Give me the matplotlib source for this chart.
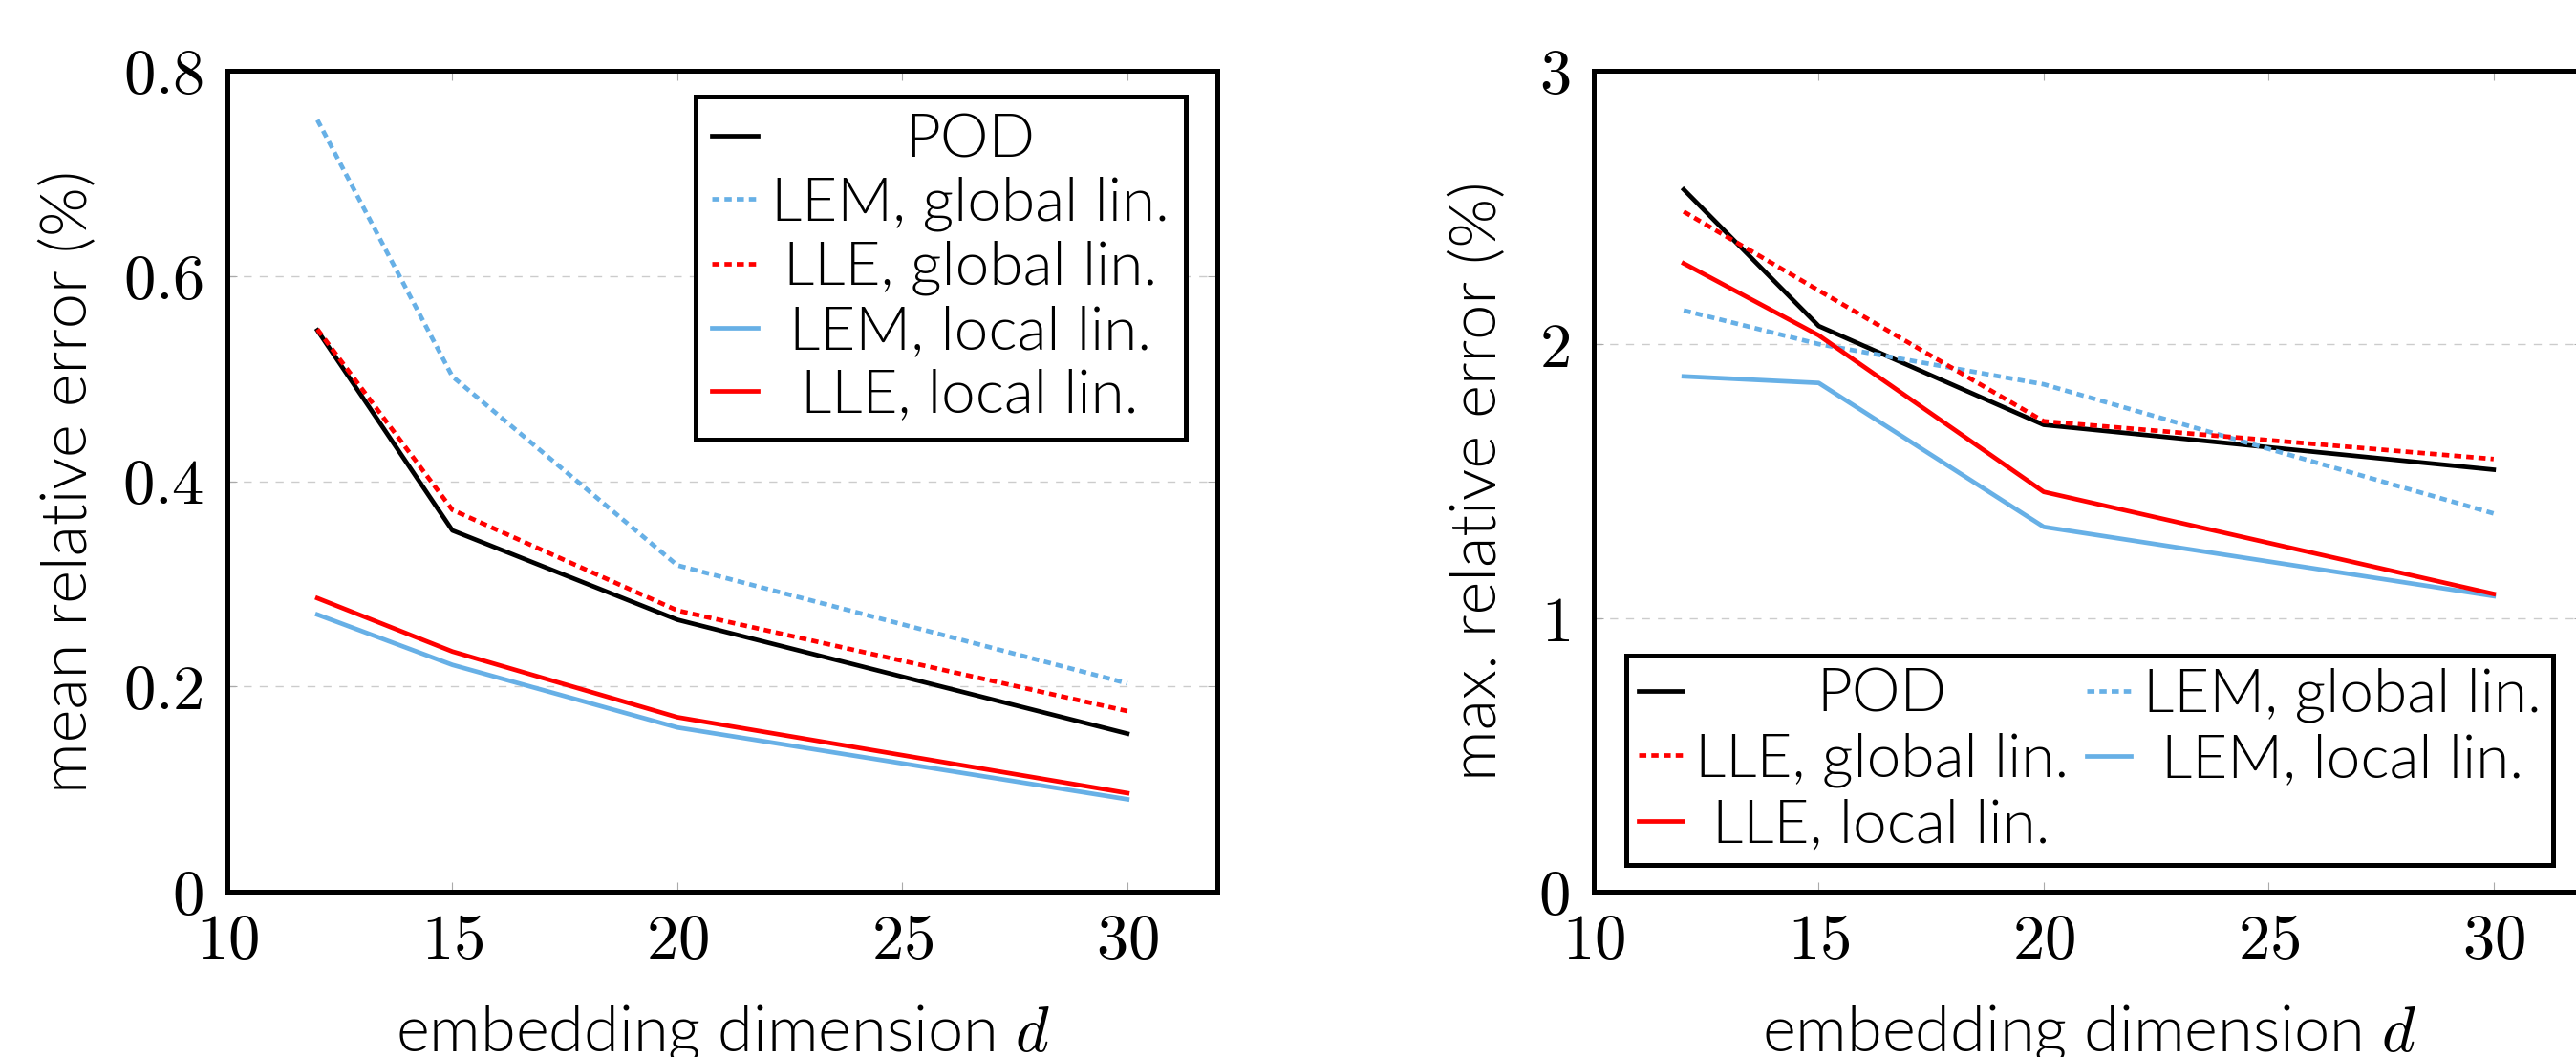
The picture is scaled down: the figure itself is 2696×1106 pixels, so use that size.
import matplotlib
matplotlib.use("Agg")
import matplotlib.pyplot as plt
from matplotlib.ticker import FixedLocator, FuncFormatter

plt.rcParams['font.family'] = ['Lato', 'DejaVu Sans']
plt.rcParams['font.weight'] = 300
plt.rcParams['axes.labelweight'] = 300
plt.rcParams['mathtext.fontset'] = 'cm'

# embedding dimensions
dims = [12, 15, 20, 30]

# mean relative error (%)
mean_pod = [0.547, 0.352, 0.265, 0.154]
mean_lem_global = [0.752, 0.502, 0.318, 0.203]
mean_lle_global = [0.548, 0.372, 0.274, 0.176]
mean_lem_local = [0.270, 0.221, 0.160, 0.090]
mean_lle_local = [0.286, 0.234, 0.170, 0.096]

# max. relative error (%)
max_pod = [2.566, 2.067, 1.706, 1.542]
max_lem_global = [2.124, 2.001, 1.854, 1.382]
max_lle_global = [2.485, 2.197, 1.719, 1.581]
max_lem_local = [1.883, 1.859, 1.333, 1.080]
max_lle_local = [2.296, 2.033, 1.461, 1.088]

labels = ["POD", "LEM, global lin.", "LLE, global lin.", "LEM, local lin.", "LLE, local lin."]
xticks = [10, 15, 20, 25, 30]
yticks_mean = [0, 0.2, 0.4, 0.6, 0.8]
yticks_max = [0, 1, 2, 3]

BLUE = "#67b0e6"
RED = "#ff0000"
DOT = (0, (1.6, 1.1))
LW = 3.4
FS = 46      # legend
LFS = 48     # axis labels

fig = plt.figure(figsize=(26.96, 11.06), dpi=100)
W, H = 2696, 1106
ax1 = fig.add_axes([238 / W, (H - 933) / H, 1036 / W, 859 / H])
ax2 = fig.add_axes([1668 / W, (H - 933) / H, 1036 / W, 859 / H])


def tick_fmt(v, pos):
    if v == 0:
        return "$0$"
    return "$%g$" % v


def style(ax, yticks, ylabel, ylab_x):
    ax.set_xlim(10, 32)
    ax.set_ylim(yticks[0], yticks[-1])
    ax.xaxis.set_major_locator(FixedLocator(xticks))
    ax.yaxis.set_major_locator(FixedLocator(yticks))
    ax.xaxis.set_major_formatter(FuncFormatter(tick_fmt))
    ax.yaxis.set_major_formatter(FuncFormatter(tick_fmt))
    ax.tick_params(direction="in", length=7, width=0.8, color="#aaaaaa",
                   top=True, right=True, labelsize=48)
    ax.tick_params(axis="y", pad=18)
    ax.tick_params(axis="x", pad=16)
    for t in yticks[1:-1]:
        ax.axhline(t, color="#cccccc", lw=1.0, ls=(0, (6, 6)), zorder=0)
    for s in ax.spines.values():
        s.set_linewidth(3.6)
        s.set_color("black")
    ax.set_xlabel("embedding dimension $d$", fontsize=LFS)
    ax.xaxis.set_label_coords(0.5, -0.135)
    ax.set_ylabel(ylabel, fontsize=LFS)
    ax.yaxis.set_label_coords(ylab_x, 0.5)


# left: mean relative error
ax1.plot(dims, mean_pod, color="black", lw=LW)
ax1.plot(dims, mean_lem_global, color=BLUE, lw=LW, ls=DOT)
ax1.plot(dims, mean_lle_global, color=RED, lw=LW, ls=DOT)
ax1.plot(dims, mean_lem_local, color=BLUE, lw=LW)
ax1.plot(dims, mean_lle_local, color=RED, lw=LW)
style(ax1, yticks_mean, "mean relative error (%)", -0.13)

# right: max relative error
h_pod, = ax2.plot(dims, max_pod, color="black", lw=LW)
h_lemg, = ax2.plot(dims, max_lem_global, color=BLUE, lw=LW, ls=DOT)
h_lleg, = ax2.plot(dims, max_lle_global, color=RED, lw=LW, ls=DOT)
h_leml, = ax2.plot(dims, max_lem_local, color=BLUE, lw=LW)
h_llel, = ax2.plot(dims, max_lle_local, color=RED, lw=LW)
style(ax2, yticks_max, "max. relative error (%)", -0.087)

leg1 = ax1.legend(labels, loc="upper right", bbox_to_anchor=(0.968, 0.9686),
                  borderaxespad=0, fontsize=FS, handlelength=0.75,
                  handletextpad=0.22, labelspacing=0.15, borderpad=0.27,
                  fancybox=False, framealpha=1, edgecolor="black")
leg1.get_frame().set_linewidth(3.6)

leg2 = ax2.legend([h_pod, h_lleg, h_llel, h_lemg, h_leml],
                  [labels[0], labels[2], labels[4], labels[1], labels[3]],
                  ncol=2, loc="lower left", bbox_to_anchor=(0.0328, 0.0326),
                  borderaxespad=0, fontsize=FS, handlelength=0.72,
                  handletextpad=0.2, labelspacing=0.17, borderpad=0.2,
                  columnspacing=0.3, fancybox=False, framealpha=1,
                  edgecolor="black")
leg2.get_frame().set_linewidth(3.6)

# centre legend labels in their column
fig.canvas.draw()
r = fig.canvas.get_renderer()


def center_texts(leg, cols):
    texts = leg.get_texts()
    for col in cols:
        ws = [texts[i].get_window_extent(r).width for i in col]
        wmax = max(ws)
        for i, w in zip(col, ws):
            texts[i].set_position(((wmax - w) / 2, 0))


center_texts(leg1, [[0, 1, 2, 3, 4]])
center_texts(leg2, [[0, 1, 2], [3, 4]])

fig.savefig("out.png", dpi=100)
